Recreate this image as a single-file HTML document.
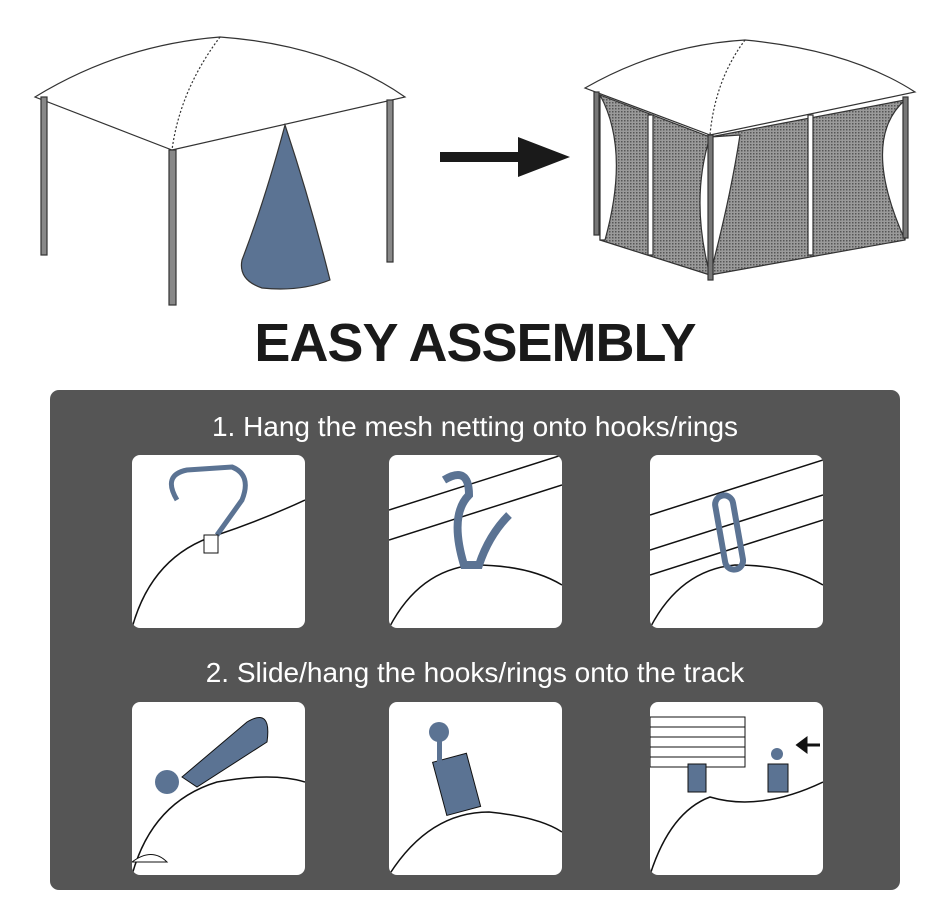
<!DOCTYPE html>
<html><head><style>
body{margin:0;background:#fff;width:950px;height:903px;overflow:hidden;font-family:"Liberation Sans",sans-serif;position:relative}
.title{position:absolute;left:0;width:950px;top:312px;text-align:center;font-weight:bold;font-size:54px;color:#1a1a1a;letter-spacing:-1px}
.panel{position:absolute;left:50px;top:390px;width:850px;height:500px;background:#555;border-radius:9px}
.t{position:absolute;left:0;width:850px;text-align:center;color:#fff;font-size:28px}
.b{position:absolute;width:173px;height:173px;background:#fff;border-radius:8px;overflow:hidden}
svg{position:absolute;left:0;top:0}
</style></head><body>
<svg width="950" height="320">
<defs><pattern id="m" width="3" height="3" patternUnits="userSpaceOnUse"><rect width="3" height="3" fill="#9a9a9a"/><rect width="1.5" height="1.5" fill="#555"/></pattern></defs>
<g stroke="#333" stroke-width="1.2" fill="#fff">
<path d="M35 97 Q120 45 220 37 Q330 45 405 97 L172 150 Z"/>
<path d="M220 37 Q180 90 172 150" fill="none" stroke-dasharray="2 2"/>
<rect x="41" y="97" width="6" height="158" fill="#888"/>
<rect x="169" y="150" width="7" height="155" fill="#888"/>
<rect x="387" y="100" width="6" height="162" fill="#888"/>
<path d="M285 125 Q310 200 330 280 Q300 292 262 288 Q238 280 242 260 Q265 200 285 125Z" fill="#5b7393"/>
</g>
<path d="M440 152 h78 v-15 l52 20 -52 20 v-15 h-78z" fill="#1a1a1a"/>
<g stroke="#333" stroke-width="1.2">
<path d="M600 95 L710 137 L710 275 L600 240Z" fill="url(#m)"/>
<path d="M710 137 L905 100 L905 240 L710 275Z" fill="url(#m)"/>
<path d="M600 95 Q630 150 605 240 L600 240Z M710 137 Q690 200 710 275 Q730 200 740 135Z M905 100 Q860 140 905 240Z" fill="#fff"/>
<rect x="648" y="115" width="5" height="140" fill="#fff"/>
<rect x="808" y="115" width="5" height="140" fill="#fff"/>
<path d="M585 88 Q660 45 745 40 Q850 50 915 92 L710 135 Z" fill="#fff"/>
<path d="M745 40 Q715 80 710 135" fill="none" stroke-dasharray="2 2"/>
<rect x="594" y="92" width="5" height="143" fill="#777"/>
<rect x="708" y="135" width="5" height="145" fill="#777"/>
<rect x="903" y="97" width="5" height="141" fill="#777"/>
</g>
</svg>
<div class="title">EASY ASSEMBLY</div>
<div class="panel">
<div class="t" style="top:21px">1. Hang the mesh netting onto hooks/rings</div>
<div class="t" style="top:267px">2. Slide/hang the hooks/rings onto the track</div>
<div class="b" style="left:82px;top:65px"><svg width="173" height="173"><path d="M0 173 Q20 100 85 80 Q130 65 173 45" fill="none" stroke="#111" stroke-width="1.5"/><path d="M45 45 Q30 20 55 15 L100 12 Q120 20 110 45 L85 80" fill="none" stroke="#5b7393" stroke-width="5"/><rect x="72" y="80" width="14" height="18" fill="#fff" stroke="#111"/></svg></div>
<div class="b" style="left:339px;top:65px"><svg width="173" height="173"><path d="M0 55 L173 0 M0 85 L173 30" stroke="#111" stroke-width="1.5"/><path d="M0 173 Q30 115 85 110 Q140 110 173 130" fill="none" stroke="#111" stroke-width="1.5"/><path d="M55 25 Q80 10 80 40 Q60 60 75 110 L90 110 Q100 80 120 60" fill="none" stroke="#5b7393" stroke-width="8"/></svg></div>
<div class="b" style="left:600px;top:65px"><svg width="173" height="173"><path d="M0 60 L173 5 M0 95 L173 40 M0 120 L173 65" stroke="#111" stroke-width="1.5"/><path d="M0 173 Q30 115 85 110 Q140 110 173 130" fill="none" stroke="#111" stroke-width="1.5"/><rect x="70" y="40" width="18" height="75" rx="9" fill="none" stroke="#5b7393" stroke-width="6" transform="rotate(-10 79 77)"/></svg></div>
<div class="b" style="left:82px;top:312px"><svg width="173" height="173"><path d="M0 173 Q20 100 85 80 Q140 70 173 80" fill="none" stroke="#111" stroke-width="1.5"/><path d="M50 75 L115 20 Q140 5 135 40 L65 85Z" fill="#5b7393" stroke="#111"/><circle cx="35" cy="80" r="12" fill="#5b7393"/><path d="M0 160 Q20 145 35 160Z" fill="#fff" stroke="#111"/></svg></div>
<div class="b" style="left:339px;top:312px"><svg width="173" height="173"><path d="M0 173 Q40 110 100 110 Q150 115 173 130" fill="none" stroke="#111" stroke-width="1.5"/><circle cx="50" cy="30" r="10" fill="#5b7393"/><rect x="50" y="55" width="35" height="55" fill="#5b7393" stroke="#111" transform="rotate(-15 67 82)"/><rect x="48" y="35" width="5" height="25" fill="#5b7393"/></svg></div>
<div class="b" style="left:600px;top:312px"><svg width="173" height="173"><rect x="0" y="15" width="95" height="50" fill="#fff" stroke="#111"/><path d="M0 25h95M0 35h95M0 45h95M0 55h95" stroke="#111"/><path d="M0 173 Q20 110 60 95 Q110 110 173 80" fill="none" stroke="#111" stroke-width="1.5"/><rect x="38" y="62" width="18" height="28" fill="#5b7393" stroke="#111"/><circle cx="127" cy="52" r="6" fill="#5b7393"/><rect x="118" y="62" width="20" height="28" fill="#5b7393" stroke="#111"/><path d="M148 43 h22 M148 43 l8 -6 v12z" stroke="#111" stroke-width="3" fill="#111"/></svg></div>
</div>
</body></html>
